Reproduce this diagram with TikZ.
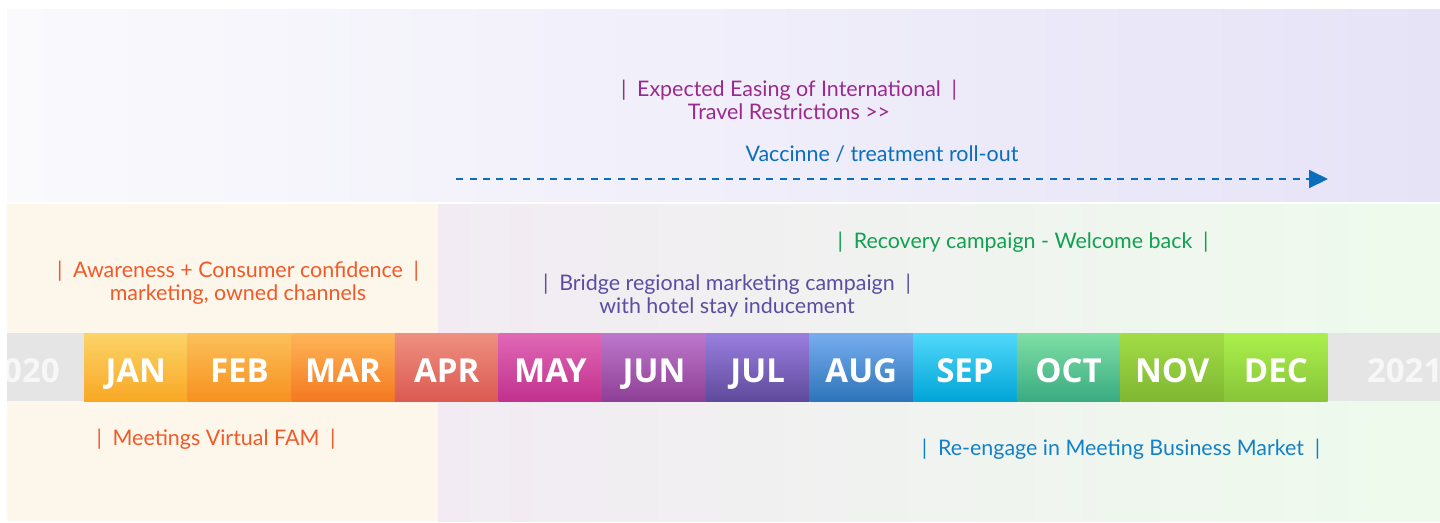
\documentclass[tikz,border=0pt]{standalone}
\usepackage{fontspec}
\setmainfont{Lato}
\newfontfamily\monthfamily{Open Sans}
\usetikzlibrary{positioning}
\usetikzlibrary{arrows.meta}

\definecolor{topleft}{HTML}{FAFAFD}
\definecolor{topright}{HTML}{E6E3F7}
\definecolor{cream}{HTML}{FDF6EB}
\definecolor{lowmid}{HTML}{F2EBF3}
\definecolor{lowright}{HTML}{EEFBEC}
\definecolor{yeargrey}{HTML}{E5E5E5}
\definecolor{easecol}{HTML}{9B2A8E}
\definecolor{vaccol}{HTML}{0A6EBD}
\definecolor{recovcol}{HTML}{12A150}
\definecolor{awarecol}{HTML}{F05A28}
\definecolor{bridgecol}{HTML}{5B4EA0}
\definecolor{meetcol}{HTML}{1181C8}
% month shades, top / bottom
\definecolor{jantop}{HTML}{FBD468}\definecolor{janbot}{HTML}{F9A825}
\definecolor{febtop}{HTML}{FCC05A}\definecolor{febbot}{HTML}{F7911F}
\definecolor{martop}{HTML}{FFB557}\definecolor{marbot}{HTML}{F47920}
\definecolor{aprtop}{HTML}{EE9080}\definecolor{aprbot}{HTML}{DB5A52}
\definecolor{maytop}{HTML}{E069B5}\definecolor{maybot}{HTML}{C1308E}
\definecolor{juntop}{HTML}{BD78CC}\definecolor{junbot}{HTML}{8E3F96}
\definecolor{jultop}{HTML}{9B7FE0}\definecolor{julbot}{HTML}{5E4A9B}
\definecolor{augtop}{HTML}{77AEEF}\definecolor{augbot}{HTML}{2E74B9}
\definecolor{septop}{HTML}{52D8FB}\definecolor{sepbot}{HTML}{00A5D6}
\definecolor{octtop}{HTML}{7FDFA5}\definecolor{octbot}{HTML}{3AAB82}
\definecolor{novtop}{HTML}{A1DD45}\definecolor{novbot}{HTML}{7FB733}
\definecolor{dectop}{HTML}{AAF04C}\definecolor{decbot}{HTML}{88C438}

\begin{document}
\begin{tikzpicture}
    [
    x=0.02cm, y=-0.02cm,
    node distance=0pt,
    month/.style={minimum width=2.0733cm, minimum height=1.36cm, inner sep=0pt, outer sep=0pt,
        text height=0.6cm, text depth=0cm,
        text=white, font=\monthfamily\bfseries\fontsize{18.8}{20}\selectfont},
    yearbox/.style={month, fill=yeargrey, text=white!97!black},
    phase/.style={align=center, inner sep=0pt, font=\fontsize{12.2}{13.1}\selectfont},
    ]

    \useasboundingbox (0,0) rectangle (1440,522);
    \clip (7,0) rectangle (1440,522);

    % backgrounds
    \shade[left color=topleft, right color=topright] (7,9) rectangle (1440,201);
    \fill[cream] (7,204) rectangle (438,521);
    \shade[left color=lowmid, right color=lowright] (438,204) rectangle (1440,521);

    % month bar
    \node[month, top color=jantop, bottom color=janbot] (jan) at (135.8,367) {JAN};
    \node[month, right=of jan, top color=febtop, bottom color=febbot] (feb) {FEB};
    \node[month, right=of feb, top color=martop, bottom color=marbot] (mar) {MAR};
    \node[month, right=of mar, top color=aprtop, bottom color=aprbot] (apr) {APR};
    \node[month, right=of apr, top color=maytop, bottom color=maybot] (may) {MAY};
    \node[month, right=of may, top color=juntop, bottom color=junbot] (jun) {JUN};
    \node[month, right=of jun, top color=jultop, bottom color=julbot] (jul) {JUL};
    \node[month, right=of jul, top color=augtop, bottom color=augbot] (aug) {AUG};
    \node[month, right=of aug, top color=septop, bottom color=sepbot] (sep) {SEP};
    \node[month, right=of sep, top color=octtop, bottom color=octbot] (oct) {OCT};
    \node[month, right=of oct, top color=novtop, bottom color=novbot] (nov) {NOV};
    \node[month, right=of nov, top color=dectop, bottom color=decbot] (dec) {DEC};
    \node[yearbox, left=of jan, minimum width=2.48cm] (y2020) {2020};
    \node[yearbox, right=of dec, minimum width=3.08cm] (y2021) {2021};

    % phases
    \node[phase, text=easecol] (easing) at (789,99.5)
        {|\enspace Expected Easing of International\enspace|\\Travel Restrictions >{}>};
    \node[phase, text=vaccol] (vaccine) at (882,154) {Vaccinne / treatment roll-out};
    \coordinate (vstart) at (456,179);
    \coordinate (vend) at (1328,179);
    \draw[vaccol, line width=1.1pt, dash pattern=on 0.14cm off 0.13cm,
        -{Triangle[length=0.38cm, width=0.36cm]}] (vstart) -- (vend);
    \node[phase, text=recovcol] (recovery) at (1023,242)
        {|\enspace Recovery campaign - Welcome back\enspace|};
    \node[phase, text=awarecol] (awareness) at (238,283)
        {|\enspace Awareness + Consumer confidence\enspace|\\marketing, owned channels};
    \node[phase, text=bridgecol] (bridge) at (727,295.5)
        {|\enspace Bridge regional marketing campaign\enspace|\\with hotel stay inducement};
    \node[phase, text=awarecol] (meetings) at (216,439)
        {|\enspace Meetings Virtual FAM\enspace|};
    \node[phase, text=meetcol] (reengage) at (1121,449)
        {|\enspace Re-engage in Meeting Business Market\enspace|};
\end{tikzpicture}
\end{document}
